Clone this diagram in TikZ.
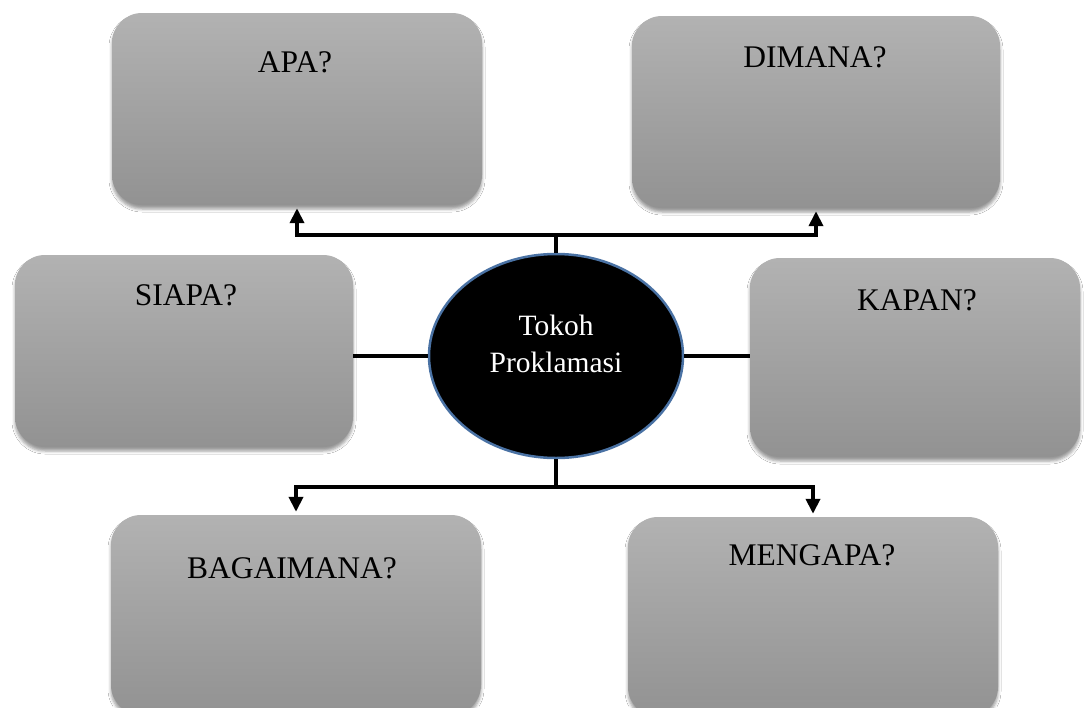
\documentclass[tikz,border=0pt]{standalone}
\usepackage{fontspec}
\setmainfont{Liberation Serif}
\usetikzlibrary{shapes.geometric,arrows.meta,shadows.blur}
\definecolor{boxtop}{HTML}{B2B2B2}
\definecolor{boxbot}{HTML}{929292}
\definecolor{rim}{HTML}{4A72A4}
\begin{document}
\begin{tikzpicture}[x=1pt,y=-1pt,
  qbox/.style={rectangle, rounded corners=30pt, top color=boxtop, bottom color=boxbot,
    draw=none, inner sep=0pt,
    blur shadow={shadow xshift=0pt, shadow yshift=-4pt, shadow blur radius=3pt, shadow opacity=40}},
  qlabel/.style={font=\fontsize{31.5}{36}\selectfont, inner sep=0pt, text=black},
  conn/.style={line width=4pt, draw=black},
  arr/.style={conn, shorten >=3pt, -{Triangle[width=14pt,length=15pt]}}]
\useasboundingbox[fill=white] (0,0) rectangle (1084,707);

% boxes
\node[qbox, minimum width=370pt, minimum height=192pt] (apa) at (297,109) {};
\node[qbox, minimum width=368pt, minimum height=192pt] (dim) at (816,112) {};
\node[qbox, minimum width=338pt, minimum height=192pt] (siapa) at (184,351) {};
\node[qbox, minimum width=330pt, minimum height=199pt] (kapan) at (915,357.5) {};
\node[qbox, minimum width=370pt, minimum height=200pt] (bag) at (296,615) {};
\node[qbox, minimum width=370pt, minimum height=200pt] (meng) at (813,617) {};

% labels
\node[qlabel] (apaT) at (295,62) {APA?};
\node[qlabel] (dimT) at (815,57) {DIMANA?};
\node[qlabel] (siapaT) at (186,295) {SIAPA?};
\node[qlabel] (kapanT) at (917,300) {KAPAN?};
\node[qlabel] (bagT) at (292,568) {BAGAIMANA?};
\node[qlabel] (mengT) at (812,555) {MENGAPA?};

% centre
\node[ellipse, fill=black, draw=rim, line width=2.5pt, minimum width=254pt,
  minimum height=204pt, inner sep=0pt] (ell) at (556,356) {};
\node[text=white, align=center, font=\fontsize{29.5}{37}\selectfont, inner sep=0pt]
  (ellT) at (556,344) {Tokoh\\Proklamasi};

% connectors
\coordinate (tj) at (556,235);
\coordinate (bj) at (556,487);
\draw[conn] (ell.north) -- (tj);
\draw[arr] (tj) -| (apa.south);
\draw[arr] (tj) -| (dim.south);
\draw[conn] (ell.south) -- (bj);
\draw[arr] (bj) -| (bag.north);
\draw[arr] (bj) -| (meng.north);
\draw[conn] (siapa.east |- ell.west) -- (ell.west);
\draw[conn] (ell.east) -- (ell.east -| kapan.west);
\end{tikzpicture}
\end{document}
